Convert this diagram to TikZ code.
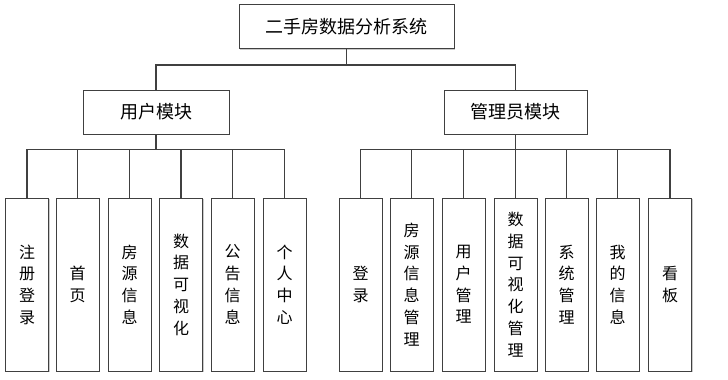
\documentclass[tikz,border=0pt]{standalone}
\usepackage{fontspec}
\setmainfont{Noto Sans CJK SC}
\usepackage{tikz}
\usetikzlibrary{positioning,shadows}

\begin{document}
\begin{tikzpicture}[
    x=0.75pt, y=-0.75pt,
    box/.style={draw=black!75, line width=0.75pt, fill=white, align=center,
        drop shadow={shadow xshift=1pt, shadow yshift=-1pt, fill=black!35, opacity=0.6}},
    head/.style={box, minimum height=33pt, font=\fontsize{13.5pt}{16pt}\selectfont},
    leaf/.style={box, minimum width=32.25pt, minimum height=129.75pt, inner sep=0pt,
        font=\fontsize{12pt}{16.3pt}\selectfont},
    link/.style={draw=black!75, line width=0.9pt}
]
\useasboundingbox (0,0) rectangle (728,379);

\node[head, minimum width=161.25pt] (sys) at (346.5,26.5) {二手房数据分析系统};
\node[head, minimum width=109.5pt] (user) at (156,112) {用户模块};
\node[head, minimum width=107.25pt] (admin) at (515.5,112) {管理员模块};

% 用户模块
\node[leaf] (u1) at (27,284.5) {注\\册\\登\\录};
\node[leaf] (u2) at (77.5,284.5) {首\\页};
\node[leaf] (u3) at (129.5,284.5) {房\\源\\信\\息};
\node[leaf] (u4) at (181,284.5) {数\\据\\可\\视\\化};
\node[leaf] (u5) at (232.5,284.5) {公\\告\\信\\息};
\node[leaf] (u6) at (284.5,284.5) {个\\人\\中\\心};

% 管理员模块
\node[leaf] (a1) at (360.5,284.5) {登\\录};
\node[leaf] (a2) at (411.5,284.5) {房\\源\\信\\息\\管\\理};
\node[leaf] (a3) at (463.5,284.5) {用\\户\\管\\理};
\node[leaf] (a4) at (515.5,284.5) {数\\据\\可\\视\\化\\管\\理};
\node[leaf] (a5) at (566.5,284.5) {系\\统\\管\\理};
\node[leaf] (a6) at (617.5,284.5) {我\\的\\信\\息};
\node[leaf] (a7) at (670,284.5) {看\\板};

\draw[link] (sys.south) -- ++(0,16) -| (user.north);
\draw[link] (sys.south) -- ++(0,16) -| (admin.north);
\foreach \i in {1,...,6}
    \draw[link] (user.south) -- ++(0,15) -| (u\i.north);
\foreach \i in {1,...,7}
    \draw[link] (admin.south) -- ++(0,15) -| (a\i.north);
\end{tikzpicture}
\end{document}
